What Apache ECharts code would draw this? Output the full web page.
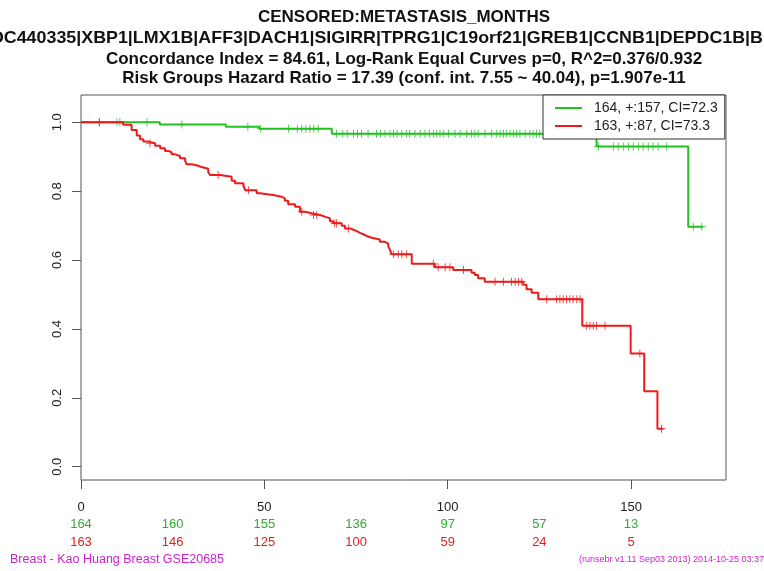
<!DOCTYPE html>
<html>
<head>
<meta charset="utf-8">
<script src="https://cdn.jsdelivr.net/npm/echarts@6/dist/echarts.min.js"></script>
<style>
  html, body { margin: 0; padding: 0; background: #fff; }
  #chart { width: 764px; height: 571px; }
</style>
</head>
<body>
<div id="chart"></div>
<script>
// Kaplan-Meier curves for the two risk groups (time in months)
const lowRiskName = '164, +:157, CI=72.3';
const highRiskName = '163, +:87, CI=73.3';

// step points: survival becomes the given value at the given time
const lowStepTimes = [0, 21.5, 39.5, 48.6, 68.4, 140.6, 165.6, 169.6];
const lowStepSurv  = [1.0, 0.994, 0.987, 0.981, 0.967, 0.930, 0.697, 0.697];
const lowCensorTimes = [5, 9.8, 10.6, 18, 27.5, 45.5, 49, 56.6, 59, 60.2, 61.3, 62.4, 63.5, 64.7,
  69.7, 71.4, 72.6, 74.3, 75.4, 76.5, 78.3, 80.6, 81.7, 82.9, 84.3, 85.2, 86.2, 87.5, 88.8,
  89.6, 91.1, 92.5, 93.8, 95, 96.1, 97, 97.9, 98.8, 100.2, 102, 103.4, 105.2, 106.5, 107.4,
  108.3, 110.2, 112, 113.4, 114.3, 115.2, 116.1, 117, 117.9, 118.8, 119.7, 121.1, 122.4,
  123.3, 124.2, 125.1, 141.1, 145.2, 146.5, 147.9, 149.3, 150.6, 152, 153.3, 154.7, 156,
  157.4, 159.7, 167, 169.3];

const highStepTimes = [0, 11.5, 13.8, 15.2, 16.1, 17.0, 18.4, 20.2, 21.6, 22.9, 23.8, 24.7, 25.6,
  27.0, 28.4, 28.8, 30.2, 32.0, 32.9, 34.7, 35.2, 37.9, 41.1, 42.0, 44.3, 44.8, 47.9, 48.8,
  52.4, 54.7, 55.6, 56.5, 58.4, 59.7, 61.1, 62.9, 65.2, 66.5, 67.9, 68.8, 71.1, 72.0, 73.4,
  74.3, 75.2, 76.1, 77.0, 77.9, 79.3, 81.5, 82.9, 83.8, 84.3, 84.7, 90.2, 96.5, 101.5, 106.5,
  107.4, 108.3, 110.1, 120.6, 121.5, 122.9, 124.7, 136.7, 149.9, 153.6, 157.2, 158.8];
const highStepSurv = [1.0, 0.993, 0.978, 0.962, 0.951, 0.944, 0.939, 0.932, 0.925, 0.917, 0.913,
  0.907, 0.902, 0.896, 0.888, 0.878, 0.874, 0.870, 0.865, 0.855, 0.847, 0.842, 0.830, 0.823,
  0.815, 0.803, 0.794, 0.789, 0.784, 0.779, 0.772, 0.762, 0.755, 0.740, 0.736, 0.731, 0.726,
  0.721, 0.713, 0.707, 0.700, 0.692, 0.688, 0.684, 0.679, 0.675, 0.670, 0.665, 0.660, 0.653,
  0.648, 0.639, 0.629, 0.617, 0.589, 0.579, 0.571, 0.563, 0.557, 0.547, 0.537, 0.528, 0.515,
  0.505, 0.486, 0.409, 0.329, 0.219, 0.110, 0.110];
const highCensorTimes = [5, 18.8, 37.4, 45.7, 60.2, 63.4, 64.3, 69.2, 69.7, 72.9, 85.2, 86.5,
  87.5, 88.8, 96.1, 97.4, 99.3, 100.6, 104.3, 112.9, 115.2, 117.4, 118.4, 119.3, 120.2, 127,
  129.7, 130.6, 131.5, 132.4, 133.3, 134.2, 135.2, 136.1, 137.9, 138.8, 139.7, 140.6, 142.9,
  152.4, 158.3];

// numbers at risk under the time axis
const riskTimes = [0, 25, 50, 75, 100, 125, 150];
const lowAtRisk = [164, 160, 155, 136, 97, 57, 13];
const highAtRisk = [163, 146, 125, 100, 59, 24, 5];

const xTicks = [0, 50, 100, 150];
const yTicks = [0, 0.2, 0.4, 0.6, 0.8, 1.0];

const titleLines = [
  'CENSORED:METASTASIS_MONTHS',
  'LOC440335|XBP1|LMX1B|AFF3|DACH1|SIGIRR|TPRG1|C19orf21|GREB1|CCNB1|DEPDC1B|B',
  'Concordance Index = 84.61, Log-Rank Equal Curves p=0, R^2=0.376/0.932',
  'Risk Groups Hazard Ratio = 17.39 (conf. int. 7.55 ~ 40.04), p=1.907e-11'
];
const footLeft = 'Breast - Kao Huang Breast GSE20685';
const footRight = '(runsebr v1.11 Sep03 2013) 2014-10-25 03:37';

const GREEN = '#22c022';
const RED = '#ee1a1a';
const FONT = '"Liberation Sans", Arial, Helvetica, sans-serif';

function zip(a, b) { return a.map((v, i) => [v, b[i]]); }
function survAt(times, surv, t) {
  let s = surv[0];
  for (let i = 0; i < times.length; i++) { if (times[i] <= t) s = surv[i]; }
  return s;
}
function censorPoints(ct, times, surv) { return ct.map(t => [t, survAt(times, surv, t)]); }

const plusSymbol = 'path://M0,4.4H10V5.6H0Z M4.4,0H5.6V10H4.4Z';

const chart = echarts.init(document.getElementById('chart'), null, { renderer: 'canvas' });

const baseX = { type: 'value', min: 0, max: 175.9, gridIndex: 0, position: 'bottom', offset: 0,
  splitLine: { show: false } };

const titleStyle = (text, size) => ({ text, font: 'bold ' + size + 'px ' + FONT, fill: '#111',
  textAlign: 'center', verticalAlign: 'middle' });

chart.setOption({
  animation: false,
  backgroundColor: '#fff',
  grid: { left: 81, top: 95, width: 645, height: 385, show: true, borderColor: '#555', borderWidth: 1, backgroundColor: 'transparent' },
  xAxis: [
    Object.assign({}, baseX, {
      axisLine: { show: false, onZero: false },
      axisTick: { show: true, length: 9, customValues: xTicks, lineStyle: { color: '#555' } },
      axisLabel: { customValues: xTicks, margin: 21, fontSize: 13, color: '#222', fontFamily: FONT }
    }),
    Object.assign({}, baseX, {
      axisLine: { show: false, onZero: false }, axisTick: { show: false },
      axisLabel: { customValues: riskTimes, margin: 38, fontSize: 13, color: '#33aa33', fontFamily: FONT,
        formatter: v => String(lowAtRisk[riskTimes.indexOf(v)]) }
    }),
    Object.assign({}, baseX, {
      axisLine: { show: false, onZero: false }, axisTick: { show: false },
      axisLabel: { customValues: riskTimes, margin: 56, fontSize: 13, color: '#dd2222', fontFamily: FONT,
        formatter: v => String(highAtRisk[riskTimes.indexOf(v)]) }
    })
  ],
  yAxis: {
    type: 'value', min: -0.0386, max: 1.0793,
    splitLine: { show: false },
    axisLine: { show: false, onZero: false },
    axisTick: { show: true, length: 9, customValues: yTicks, lineStyle: { color: '#555' } },
    axisLabel: { customValues: yTicks, rotate: 90, margin: 17, fontSize: 13, color: '#222', fontFamily: FONT,
      formatter: v => v.toFixed(1) }
  },
  legend: {
    data: [lowRiskName, highRiskName],
    orient: 'vertical', left: 543, top: 95,
    icon: 'rect', itemWidth: 27, itemHeight: 2, itemGap: 2,
    padding: [5, 7, 5, 12],
    selectedMode: false,
    backgroundColor: '#fff', borderColor: '#333', borderWidth: 1,
    textStyle: { fontSize: 14, color: '#222', fontFamily: FONT, lineHeight: 16, padding: [0, 0, 0, 7] }
  },
  series: [
    { name: lowRiskName, type: 'line', step: 'end', showSymbol: false, symbol: 'none',
      data: zip(lowStepTimes, lowStepSurv), lineStyle: { color: GREEN, width: 2 }, itemStyle: { color: GREEN }, z: 2 },
    { name: highRiskName, type: 'line', step: 'end', showSymbol: false, symbol: 'none',
      data: zip(highStepTimes, highStepSurv), lineStyle: { color: RED, width: 2 }, itemStyle: { color: RED }, z: 3 },
    { name: 'lowCensor', type: 'scatter', symbol: plusSymbol, symbolSize: 8,
      data: censorPoints(lowCensorTimes, lowStepTimes, lowStepSurv), itemStyle: { color: GREEN }, z: 2 },
    { name: 'highCensor', type: 'scatter', symbol: plusSymbol, symbolSize: 8,
      data: censorPoints(highCensorTimes, highStepTimes, highStepSurv), itemStyle: { color: RED }, z: 3 }
  ],
  graphic: [
    { type: 'text', x: 404, y: 17, style: titleStyle(titleLines[0], 17) },
    { type: 'text', x: -21, y: 38, scaleX: 1.05, style: Object.assign(titleStyle(titleLines[1], 17), { textAlign: 'left' }) },
    { type: 'text', x: 404, y: 59, style: titleStyle(titleLines[2], 17) },
    { type: 'text', x: 404, y: 78, style: titleStyle(titleLines[3], 17) },
    { type: 'text', x: 10, y: 560, style: { text: footLeft, font: '12.5px ' + FONT, fill: '#cc22cc', verticalAlign: 'middle' } },
    { type: 'text', x: 764, y: 560, style: { text: footRight, font: '9px ' + FONT, fill: '#cc22cc', textAlign: 'right', verticalAlign: 'middle' } }
  ]
});
</script>
</body>
</html>
